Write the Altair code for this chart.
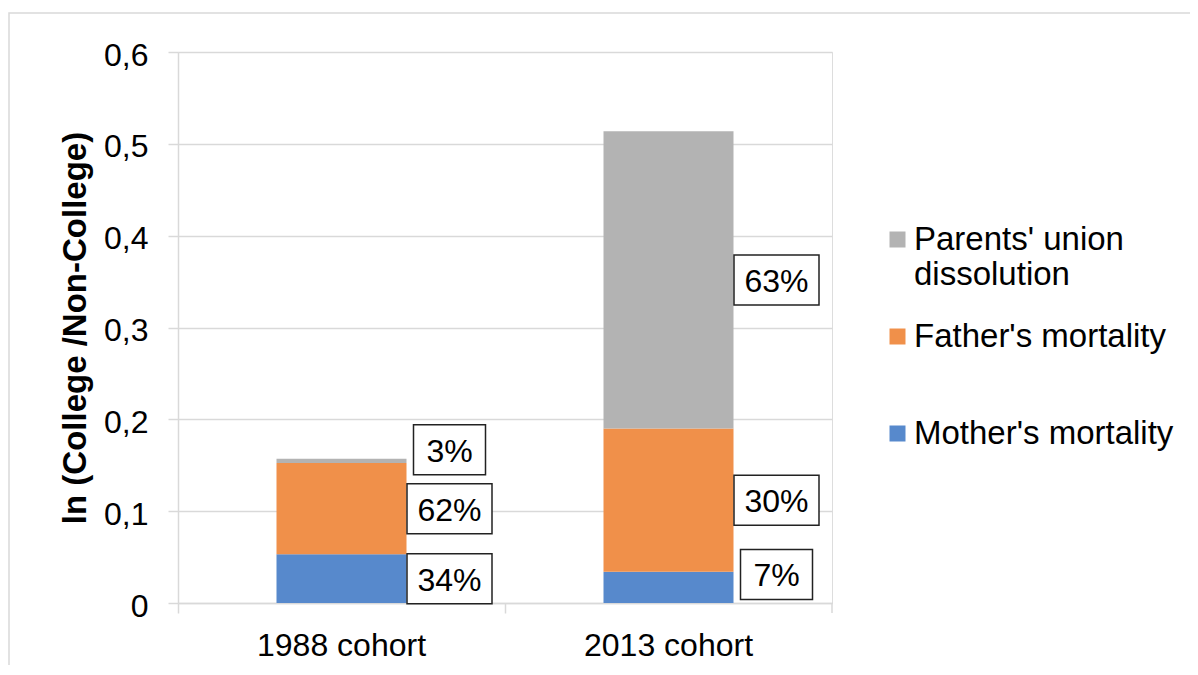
import altair as alt
import pandas as pd

# ---------------- data ----------------
cohorts = ["1988 cohort", "2013 cohort"]
components = ["Mother's mortality", "Father's mortality", "Parents' union dissolution"]
mother = [0.053, 0.034]
father = [0.0995, 0.156]
parents = [0.0047, 0.3236]
mother_pct = ["34%", "7%"]
father_pct = ["62%", "30%"]
parents_pct = ["3%", "63%"]
y_ticks = [0, 0.1, 0.2, 0.3, 0.4, 0.5, 0.6]

# ---------------- layout / style ----------------
W, H = 654, 551
Y_MAX = 0.6
PPU = H / Y_MAX  # pixels per unit
FONT = "Liberation Sans"
COLORS = {"Parents' union dissolution": "#B3B3B3",
          "Father's mortality": "#F0904A",
          "Mother's mortality": "#5789CC"}
GRID = "#D9D9D9"
BOX_HALF_H = 25
LABEL_NUDGE_PX = {("1988 cohort", "Parents' union dissolution"): -11,
                  ("2013 cohort", "Mother's mortality"): -13}

rows = []
for i, c in enumerate(cohorts):
    base = 0.0
    for k, (comp, vals, pcts) in enumerate(zip(components,
                                               [mother, father, parents],
                                               [mother_pct, father_pct, parents_pct])):
        v = vals[i]
        lo, hi = base, base + v
        mid = (lo + hi) / 2 - LABEL_NUDGE_PX.get((c, comp), 0) / PPU
        rows.append({"cohort": c, "component": comp, "value": v, "order": k,
                     "lo": lo, "hi": hi, "pct": pcts[i],
                     "lab_y": mid,
                     "box_lo": mid - BOX_HALF_H / PPU, "box_hi": mid + BOX_HALF_H / PPU,
                     "nchar": len(pcts[i])})
        base = hi
df = pd.DataFrame(rows)

x_enc = alt.X("cohort:N", sort=cohorts, title=None,
              scale=alt.Scale(domain=cohorts, paddingInner=0, paddingOuter=0),
              axis=alt.Axis(labelAngle=0, labelFontSize=32, labelFont=FONT, labelColor="#000",
                            labelPadding=17, ticks=True, tickSize=10, tickColor=GRID,
                            tickWidth=1.5, bandPosition=0, domainColor=GRID, domainWidth=1.5,
                            grid=False))

bars = alt.Chart(df).mark_bar(width=130).encode(
    x=x_enc,
    y=alt.Y("lo:Q", title="ln (College /Non-College)",
            scale=alt.Scale(domain=[0, Y_MAX], nice=False),
            axis=alt.Axis(values=y_ticks, tickSize=10, tickColor=GRID, tickWidth=1.5,
                          domainColor=GRID, domainWidth=1.5, gridColor=GRID, gridWidth=1.5,
                          labelFontSize=32, labelFont=FONT, labelColor="#000", labelPadding=20,
                          labelOffset=3,
                          labelExpr="datum.value == 0 ? '0' : replace(format(datum.value, '.1f'), '.', ',')",
                          titleFontSize=33, titleFont=FONT, titleFontWeight="bold",
                          titleColor="#000", titlePadding=11)),
    y2="hi:Q",
    color=alt.Color("component:N",
                    scale=alt.Scale(domain=list(reversed(components)),
                                    range=[COLORS[c] for c in reversed(components)]),
                    legend=alt.Legend(title=None, orient="none", legendX=703, legendY=171,
                                      symbolType="square", symbolSize=256, symbolStrokeWidth=0,
                                      labelFontSize=33, labelFont=FONT, labelColor="#000",
                                      labelLimit=600, labelOffset=0, gridAlign="all",
                                      rowPadding=28, padding=0,
                                      labelExpr="datum.label == \"Parents' union dissolution\" ? [\"Parents' union\", 'dissolution'] : datum.label")),
    order=alt.Order("order:Q"),
)

box_common = dict(fill="white", stroke="#222", strokeWidth=1.5, xOffset=108)
boxes3 = alt.Chart(df).transform_filter("datum.nchar >= 3").mark_bar(width=85, **box_common).encode(
    x=alt.X("cohort:N", sort=cohorts), y="box_lo:Q", y2="box_hi:Q")
boxes2 = alt.Chart(df).transform_filter("datum.nchar < 3").mark_bar(width=72, **box_common).encode(
    x=alt.X("cohort:N", sort=cohorts), y="box_lo:Q", y2="box_hi:Q")

texts = alt.Chart(df).mark_text(fontSize=32, font=FONT, color="#000", dx=108, dy=2,
                                baseline="middle", align="center").encode(
    x=alt.X("cohort:N", sort=cohorts), y="lab_y:Q", text="pct:N")

one = pd.DataFrame({"k": [0]})
frame = alt.Chart(one).mark_rect(fill=None, stroke=GRID, strokeWidth=1.5).encode(
    x=alt.value(-169), x2=alt.value(1100), y=alt.value(-39), y2=alt.value(700))
end_tick = alt.Chart(one).mark_rule(color=GRID, strokeWidth=1.5).encode(
    x=alt.value(W), y=alt.value(H), y2=alt.value(H + 10))

chart = alt.layer(frame, bars, boxes3, boxes2, texts, end_tick).properties(
    width=W, height=H,
    autosize=alt.AutoSizeParams(type="none"),
    padding={"left": 170, "top": 44, "right": 358, "bottom": 62},
).configure_view(stroke=None).configure(background="white")

chart.save("out.html", embed_options={"renderer": "svg", "actions": False})
